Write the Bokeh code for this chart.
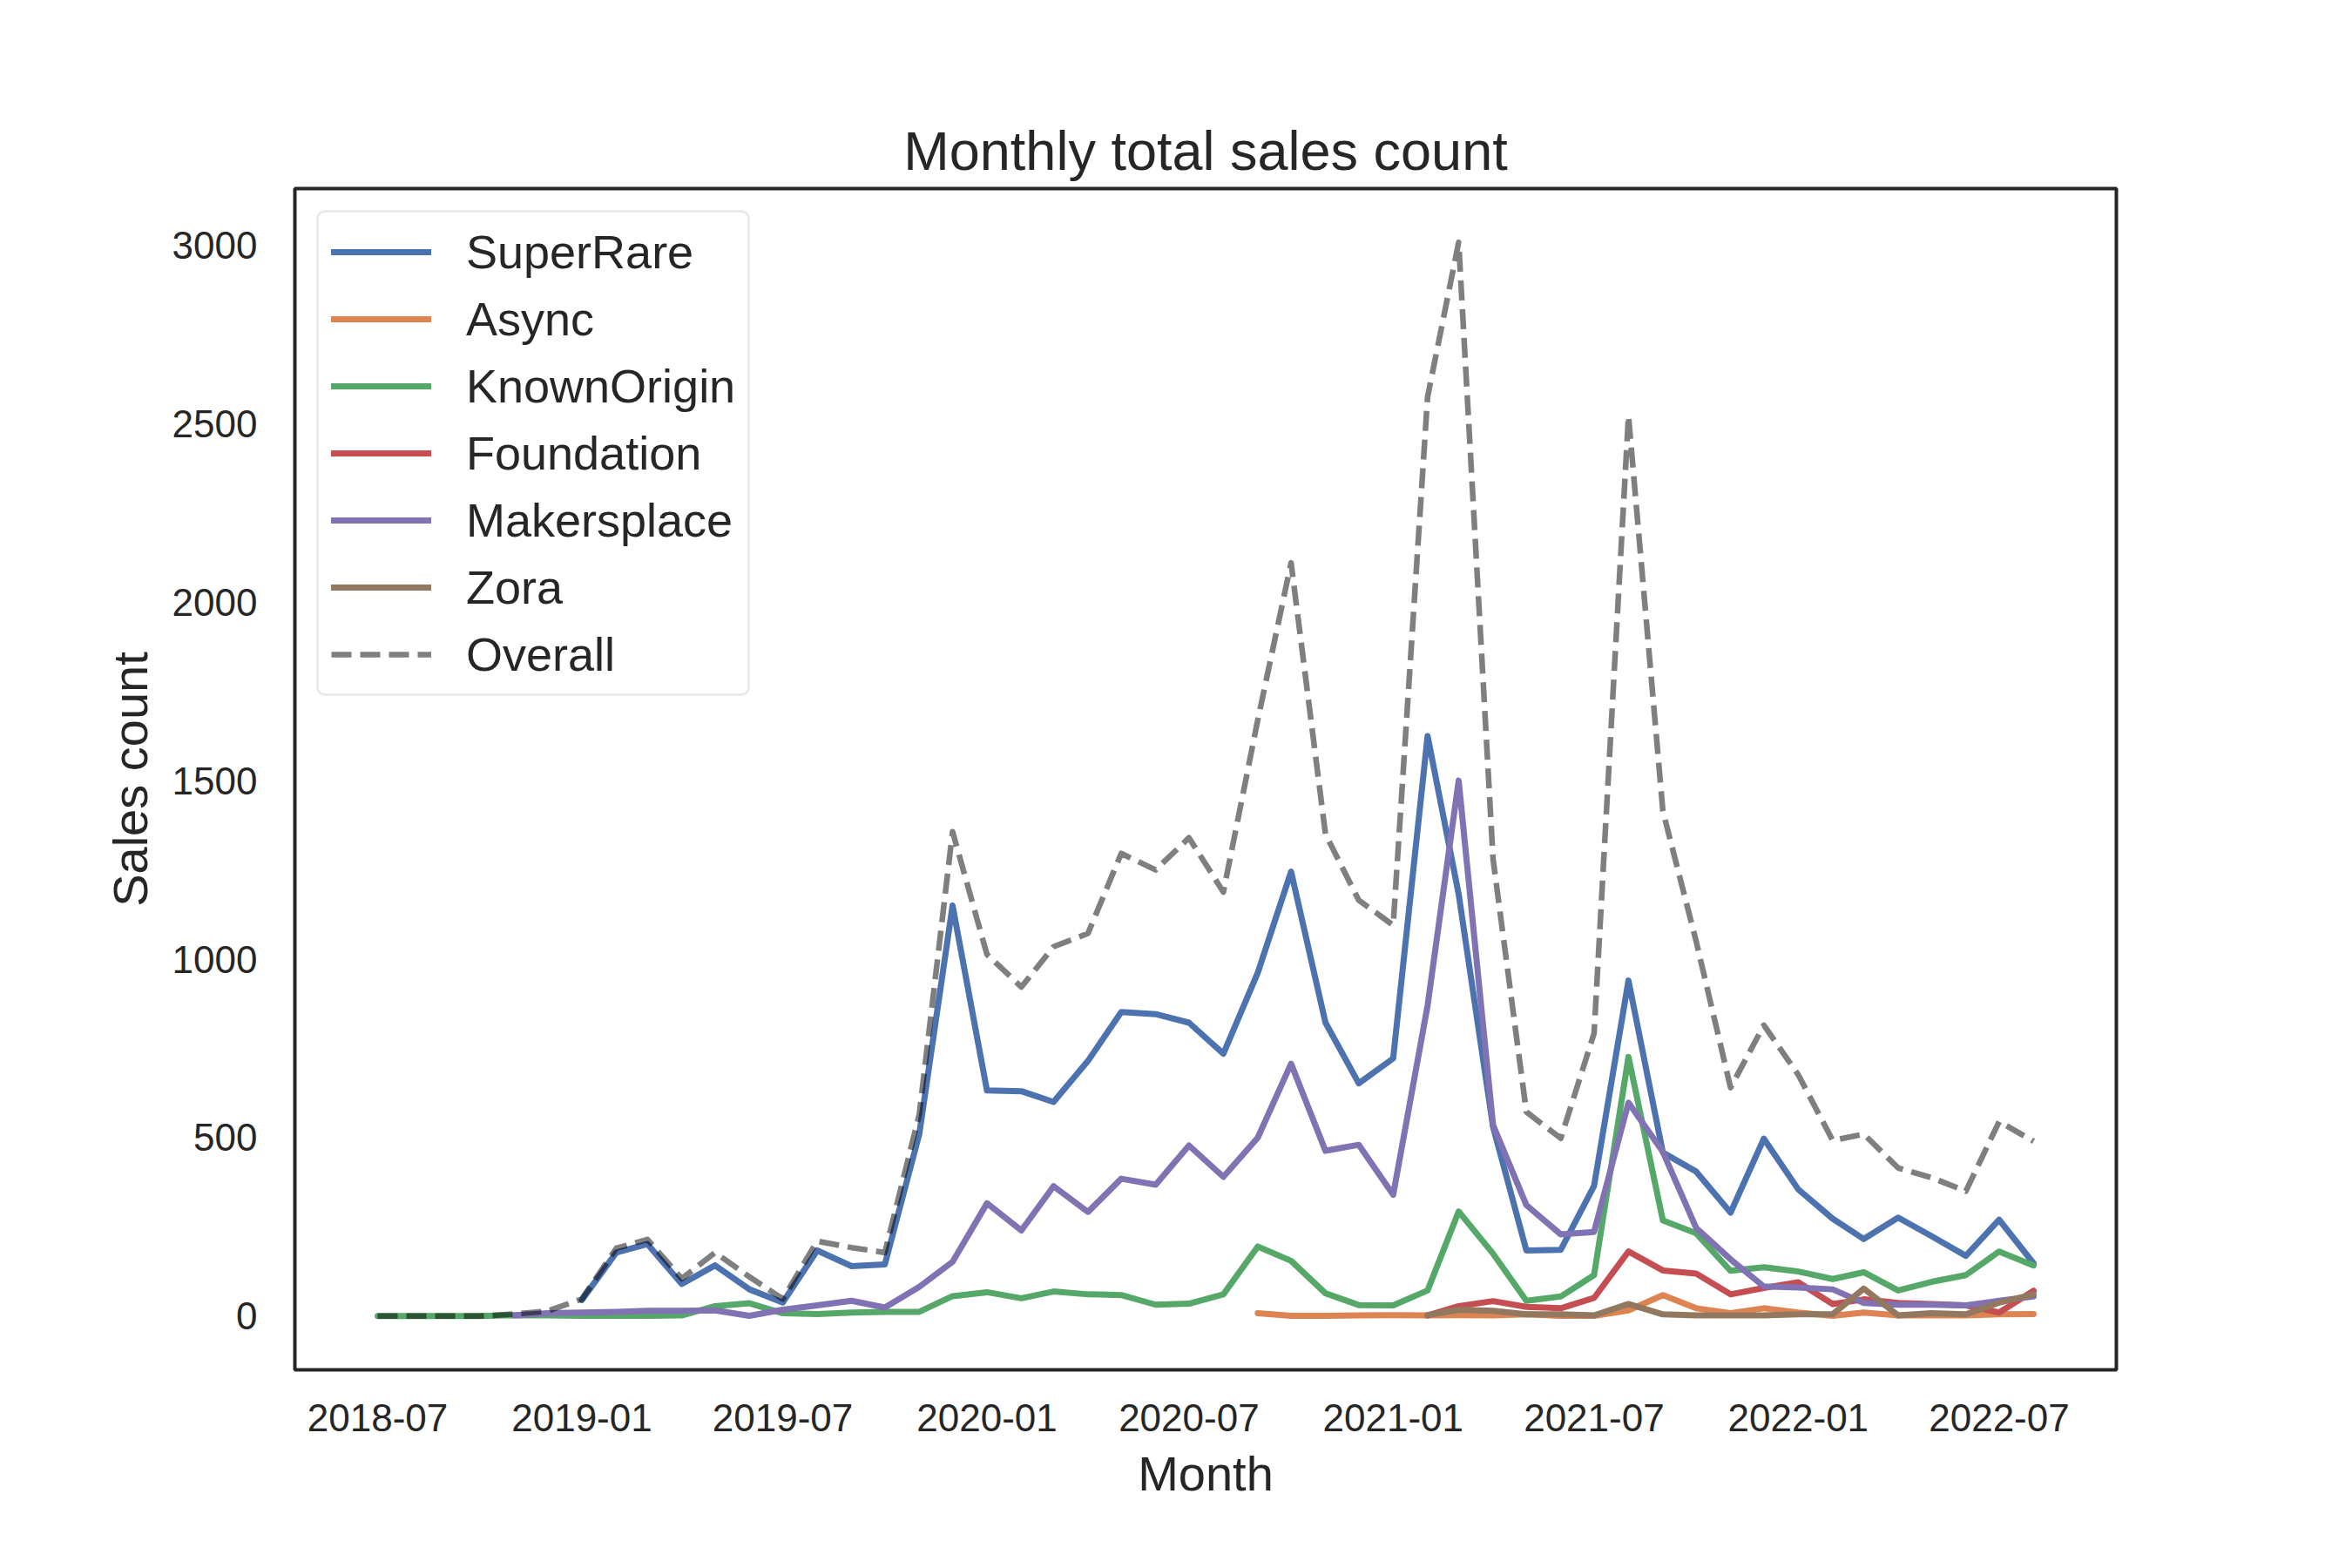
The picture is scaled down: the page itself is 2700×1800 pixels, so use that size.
import numpy as np
import pandas as pd
from bokeh.plotting import figure
from bokeh.models import Range1d, FixedTicker, DatetimeTickFormatter, Legend, LegendItem
from bokeh.embed import file_html
from bokeh.resources import INLINE

# ---------------- data ----------------
months = pd.date_range("2018-07-01", periods=50, freq="MS")
N = None

superrare = [N, N, N, N, N, N, 45, 178, 202, 90, 142, 75, 38, 184, 140, 145, 510, 1150,
             632, 630, 600, 715, 852, 846, 822, 735, 962, 1245, 822, 652, 722, 1625, 1182,
             530, 184, 186, 365, 940, 458, 405, 290, 497, 355, 273, 216, 276, 224, 169, 270, 148]
async_ = [N] * 26 + [8, 1, 1, 2, 3, 2, 3, 2, 5, 1, 1, 16, 59, 22, 8, 22, 10, 1, 10, 2, 2, 2, 5, 6]
knownorigin = [0, 0, 0, 0, 3, 2, 1, 1, 1, 2, 28, 36, 8, 6, 10, 12, 12, 56, 67, 50, 69, 61, 59,
               32, 35, 61, 195, 155, 64, 31, 30, 72, 293, 175, 43, 55, 115, 726, 268, 232, 127,
               137, 125, 104, 123, 72, 96, 115, 181, 142]
foundation = [N] * 31 + [2, 28, 42, 26, 22, 51, 181, 128, 119, 61, 79, 95, 34, 47, 37, 34, 30, 10, 71]
makersplace = [N, N, N, N, 2, 8, 10, 12, 15, 15, 16, 1, 18, 30, 43, 24, 82, 152, 316, 240, 364,
               292, 385, 368, 478, 390, 500, 707, 463, 480, 340, 870, 1500, 535, 311, 229, 236,
               598, 460, 247, 159, 83, 80, 75, 37, 32, 32, 30, 43, 55]
zora = [N] * 31 + [3, 18, 15, 5, 5, 2, 34, 5, 2, 2, 2, 5, 5, 77, 2, 8, 5, 38, 61]
overall = [0, 0, 0, 0, 6, 14, 48, 190, 215, 105, 178, 110, 48, 210, 192, 178, 565, 1357, 1013,
           922, 1035, 1072, 1296, 1250, 1340, 1188, 1670, 2110, 1350, 1165, 1095, 2575, 3008,
           1280, 572, 498, 792, 2522, 1415, 1050, 640, 815, 676, 492, 510, 415, 388, 350, 545, 490]

series_names = ["SuperRare", "Async", "KnownOrigin", "Foundation", "Makersplace", "Zora"]
series_values = [superrare, async_, knownorigin, foundation, makersplace, zora]
series_colors = ["#4c72b0", "#dd8452", "#55a868", "#c44e52", "#8172b3", "#937860"]

x_tick_labels = ["2018-07", "2019-01", "2019-07", "2020-01", "2020-07",
                 "2021-01", "2021-07", "2022-01", "2022-07"]
y_ticks = [0, 500, 1000, 1500, 2000, 2500, 3000]

# ---------------- figure ----------------
FONT = "Liberation Sans"
TXT = "#262626"

x_ms = np.array([d.value / 1e6 for d in months])
span_x = x_ms[-1] - x_ms[0]
ymax = np.nanmax(np.array(overall, dtype=float))
ymin = 0.0
span_y = ymax - ymin

p = figure(
    output_backend="svg", toolbar_location=None,
    x_axis_type="datetime",
    frame_width=2091, frame_height=1356,
    min_border_left=338, min_border_right=255,
    min_border_top=216, min_border_bottom=212,
    x_range=Range1d(x_ms[0] - 0.05 * span_x, x_ms[-1] + 0.05 * span_x),
    y_range=Range1d(ymin - 0.05 * span_y, ymax + 0.05 * span_y),
    title="Monthly total sales count",
)
p.background_fill_color = "white"
p.border_fill_color = "white"
p.outline_line_color = TXT
p.outline_line_width = 4
p.xgrid.grid_line_color = None
p.ygrid.grid_line_color = None

p.title.align = "center"
p.title.text_font = FONT
p.title.text_font_size = "63px"
p.title.text_font_style = "normal"
p.title.text_color = TXT
p.title.standoff = 17

tick_ms = [pd.Timestamp(t + "-01").value / 1e6 for t in x_tick_labels]
p.xaxis.ticker = FixedTicker(ticks=tick_ms)
fmt = "%Y-%m"
p.xaxis.formatter = DatetimeTickFormatter(
    milliseconds=fmt, seconds=fmt, minsec=fmt, minutes=fmt, hourmin=fmt, hours=fmt,
    days=fmt, months=fmt, years=fmt)
p.yaxis.ticker = FixedTicker(ticks=y_ticks)

for ax in (p.xaxis[0], p.yaxis[0]):
    ax.axis_line_color = None
    ax.major_tick_line_color = None
    ax.minor_tick_line_color = None
    ax.major_tick_in = 0
    ax.major_tick_out = 0
    ax.minor_tick_out = 0
    ax.major_label_text_font = FONT
    ax.major_label_text_font_size = "44px"
    ax.major_label_text_color = TXT
    ax.axis_label_text_font = FONT
    ax.axis_label_text_font_size = "56px"
    ax.axis_label_text_font_style = "normal"
    ax.axis_label_text_color = TXT

p.xaxis.axis_label = "Month"
p.yaxis.axis_label = "Sales count"
p.xaxis.major_label_standoff = 39
p.yaxis.major_label_standoff = 43
p.xaxis.axis_label_standoff = 14
p.yaxis.axis_label_standoff = 14

items = []
for name, vals, col in zip(series_names, series_values, series_colors):
    r = p.line(x_ms, np.array(vals, dtype=float), line_color=col, line_width=7,
               line_cap="round", line_join="round")
    items.append(LegendItem(label=name, renderers=[r]))
r = p.line(x_ms, np.array(overall, dtype=float), line_color="black", line_alpha=0.5,
           line_width=6.5, line_dash="23 10", line_join="round")
items.append(LegendItem(label="Overall", renderers=[r]))

legend = Legend(items=items, location="top_left")
legend.margin = 25
legend.padding = 14
legend.spacing = 15
legend.label_height = 62
legend.glyph_height = 62
legend.glyph_width = 115
legend.label_standoff = 40
legend.label_text_font = FONT
legend.label_text_font_size = "54px"
legend.label_text_color = TXT
legend.border_line_color = "#d6d6d6"
legend.border_line_width = 3
legend.background_fill_color = "white"
legend.background_fill_alpha = 0.8
if "border_radius" in Legend.properties():
    legend.border_radius = 10
p.add_layout(legend)

open("out.html", "w").write(file_html(p, INLINE))
